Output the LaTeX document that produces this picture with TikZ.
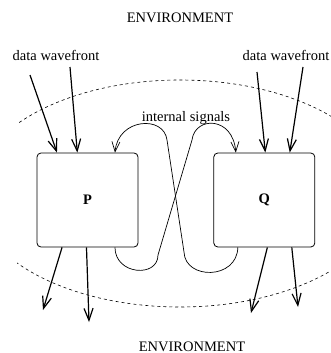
\documentclass[tikz,border=0pt]{standalone}
\usepackage{fontspec}
\setmainfont{Liberation Serif}
\usetikzlibrary{positioning,calc}
\usetikzlibrary{arrows.meta}

\begin{document}
\begin{tikzpicture}[
  x = 1pt,
  y = -1pt,
  proc/.style = {
    draw,
    rounded corners = 4pt,
    line width = 0.8pt,
    minimum width = 101pt,
    minimum height = 94pt,
    font = \fontsize{14.5}{17}\selectfont\bfseries,
  },
  lbl/.style = {
    inner sep = 0pt,
    font = \fontsize{14.5}{17}\selectfont,
  },
  flow/.style = {->, line width = 1.2pt},
  sig/.style = {-{Straight Barb[length=10pt,width=8pt]}, line width = 0.7pt},
  >={Straight Barb[length=12pt,width=9pt]},
]

  \useasboundingbox (0,0) rectangle (331,353);

  % the border of the environment
  \begin{scope}
    \clip (17,0) rectangle (331,353);
    \draw[dash pattern=on 3pt off 3pt, line width=0.6pt] (180,193.5) ellipse [x radius=206, y radius=113.5];
  \end{scope}

  \node[proc] (P) at (87.5,200) {P};
  \node[proc] (Q) [right=75pt of P] {Q};

  \node[lbl] (envtop) at (180,18) {ENVIRONMENT};
  \node[lbl] (envbot) at (192,346.5) {ENVIRONMENT};
  \node[lbl] (wavel) at (56,55.5) {data wavefront};
  \node[lbl] (waver) at (286,55.5) {data wavefront};
  \node[lbl] (intsig) at (186,118) {internal signals};

  \coordinate (pa) at (30,75);
  \coordinate (pb) at (70,67);
  \coordinate (qa) at (257,72);
  \coordinate (qb) at (303,67);
  \coordinate (pc) at (43,310);
  \coordinate (pd) at (89,322);
  \coordinate (qc) at (251,313);
  \coordinate (qd) at (298,307);

  % data coming in
  \draw[flow] (pa) -- ($(P.north west)!.2!(P.north east)$);
  \draw[flow] (pb) -- ($(P.north west)!.4!(P.north east)$);
  \draw[flow] (qa) -- ($(Q.north west)!.51!(Q.north east)$);
  \draw[flow] (qb) -- ($(Q.north west)!.75!(Q.north east)$);

  % data going out
  \draw[flow] ($(P.south west)!.25!(P.south east)$) -- (pc);
  \draw[flow] ($(P.south west)!.49!(P.south east)$) -- (pd);
  \draw[flow] ($(Q.south west)!.53!(Q.south east)$) -- (qc);
  \draw[flow] ($(Q.south west)!.77!(Q.south east)$) -- (qd);

  % internal signals
  \draw[sig] ($(Q.south west)!.24!(Q.south east)$) .. controls (237,280) and (185,280) .. (184,252)
    -- (167,140) .. controls (164,115) and (118,118) .. ($(P.north west)!.77!(P.north east)$);
  \draw[sig] ($(P.south west)!.77!(P.south east)$) .. controls (115,275) and (158,278) .. (158,255)
    -- (192,140) .. controls (195,116) and (233,116) .. ($(Q.north west)!.22!(Q.north east)$);

\end{tikzpicture}
\end{document}
